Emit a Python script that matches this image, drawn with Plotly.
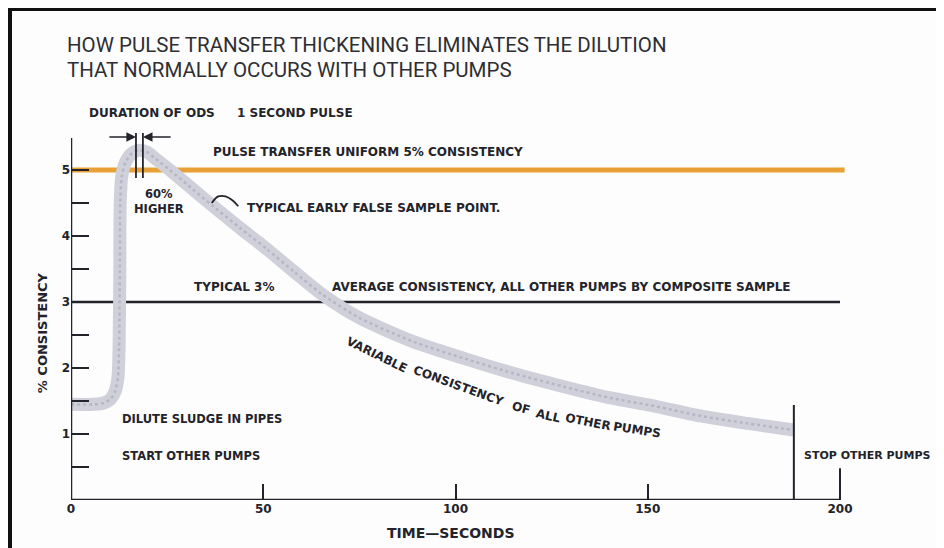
import plotly.graph_objects as go

# ---------------- data ----------------
time_s = [0, 6, 8.5, 10.3, 11.5, 12.2, 12.5, 12.7, 12.8, 13.2, 14.2, 15.8, 17.8, 19.8, 22, 25.7,
          30, 37, 44, 51, 58, 65, 75, 89, 102, 115, 128, 140, 152, 164, 176, 188]
consistency = [1.45, 1.45, 1.47, 1.53, 1.65, 1.85, 2.3, 3.5, 4.5, 4.9, 5.12, 5.25, 5.3, 5.27,
               5.17, 5.0, 4.79, 4.45, 4.12, 3.8, 3.46, 3.13, 2.76, 2.4, 2.15, 1.92, 1.72, 1.55,
               1.42, 1.27, 1.16, 1.06]

x_ticks = [0, 50, 100, 150, 200]
x_tick_labels = ["0", "50", "100", "150", "200"]
y_ticks = [1, 2, 3, 4, 5]
y_tick_labels = ["1", "2", "3", "4", "5"]
y_minor_ticks = [0.5, 1.5, 2.5, 3.5, 4.5]

pulse_level = 5          # pulse transfer uniform consistency
average_level = 3        # typical average consistency
stop_time = 188          # stop other pumps
ods_bounds = [16.9, 18.7]  # duration of ODS markers
x_axis_end = 200
y_axis_end = 5.485

INK = "#23232b"
FONT = "DejaVu Sans"

# figure geometry (page body has an 8px margin)
W, H = 936, 540
L, B = 63, 48
XS, YS = 3.845, 66.0               # pixels per data unit
XMAX = (W - L) / XS
YMAX = (H - B) / YS


def px_(xd):
    return xd / XMAX


def py_(yd):
    return yd / YMAX


fig = go.Figure()

# orange pulse transfer line
fig.add_trace(go.Scatter(x=[0, x_axis_end + 1.2], y=[pulse_level, pulse_level], mode="lines",
                         line=dict(color="#e9a034", width=5), hoverinfo="skip"))
# black average line
fig.add_trace(go.Scatter(x=[0, x_axis_end], y=[average_level, average_level], mode="lines",
                         line=dict(color=INK, width=2.5), hoverinfo="skip"))
# variable consistency band
fig.add_trace(go.Scatter(x=time_s, y=consistency, mode="lines",
                         line=dict(color="#cfd0da", width=13, shape="spline", smoothing=0.7),
                         hoverinfo="skip"))
fig.add_trace(go.Scatter(x=time_s, y=consistency, mode="lines",
                         line=dict(color="#b5b7c4", width=2.5, shape="spline", smoothing=0.7,
                                   dash="dot"),
                         hoverinfo="skip"))
# stop line and tall 200 tick
fig.add_trace(go.Scatter(x=[stop_time, stop_time], y=[0, 1.44], mode="lines",
                         line=dict(color=INK, width=2), hoverinfo="skip"))
fig.add_trace(go.Scatter(x=[x_axis_end, x_axis_end], y=[0, 0.48], mode="lines",
                         line=dict(color=INK, width=2), hoverinfo="skip"))
# axis lines
fig.add_trace(go.Scatter(x=[0, x_axis_end], y=[0, 0], mode="lines",
                         line=dict(color=INK, width=2.5), hoverinfo="skip"))
fig.add_trace(go.Scatter(x=[0, 0], y=[0, y_axis_end], mode="lines",
                         line=dict(color=INK, width=2.5), hoverinfo="skip"))
# ODS duration markers
for xv in ods_bounds:
    fig.add_trace(go.Scatter(x=[xv, xv], y=[4.88, 5.56], mode="lines",
                             line=dict(color=INK, width=1.8), hoverinfo="skip"))
# small arc pointing to false sample point
fig.add_trace(go.Scatter(x=[36.6, 38.3, 40.2, 42.2, 43.5], y=[4.5, 4.6, 4.6, 4.53, 4.45],
                         mode="lines", line=dict(color=INK, width=1.8, shape="spline"),
                         hoverinfo="skip"))

ann = []


def label(text, x, y, size=12, xanchor="left", angle=0, weight="bold", color=INK, family=FONT):
    ann.append(dict(text=text, x=px_(x), y=py_(y), xref="paper", yref="paper", showarrow=False,
                    xanchor=xanchor, yanchor="middle", textangle=angle,
                    font=dict(family=family, size=size, color=color, weight=weight)))


label("DURATION OF ODS", 4.2, 5.86)
label("1 SECOND PULSE", 42.7, 5.86)
label("PULSE TRANSFER UNIFORM 5% CONSISTENCY", 36.4, 5.27)
label("60%<br>HIGHER", 23.0, 4.52, size=11.5, xanchor="center")
label("TYPICAL EARLY FALSE SAMPLE POINT.", 45.3, 4.42)
label("TYPICAL 3%", 31.5, 3.23)
label("AVERAGE CONSISTENCY, ALL OTHER PUMPS BY COMPOSITE SAMPLE", 67.4, 3.23)
label("DILUTE SLUDGE IN PIPES", 12.7, 1.23, size=11.5)
label("START OTHER PUMPS", 12.7, 0.67, size=11.5)
label("STOP OTHER PUMPS", 190.2, 0.68, size=11)
label("TIME—SECONDS", 98.8, -0.5, size=14, xanchor="center")
label("% CONSISTENCY", -7.5, 2.53, size=13, xanchor="center", angle=-90)

# curved label, word by word
for w, x, y, a in [("VARIABLE", 79.6, 2.20, 26), ("CONSISTENCY", 100.9, 1.73, 20),
                   ("OF", 117.0, 1.40, 15), ("ALL", 124.2, 1.28, 13),
                   ("OTHER", 134.4, 1.18, 11), ("PUMPS", 147.2, 1.06, 9)]:
    label(w, x, y, size=12, xanchor="center", angle=a)

# title
label("HOW PULSE TRANSFER THICKENING ELIMINATES THE DILUTION", -1.56, 6.89, size=20.5,
      weight="normal", color="#2e2e33", family="Roboto")
label("THAT NORMALLY OCCURS WITH OTHER PUMPS", -1.56, 6.52, size=20.5,
      weight="normal", color="#2e2e33", family="Roboto")

# duration arrows
for x_to, x_from in [(ods_bounds[0], 9.6), (ods_bounds[1], 26.3)]:
    ann.append(dict(x=x_to, y=5.5, ax=x_from, ay=5.5, xref="x", yref="y", axref="x", ayref="y",
                    text="", showarrow=True, arrowhead=2, arrowsize=1.2, arrowwidth=1.6,
                    arrowcolor=INK))

frame_x = (2 - L) / XS        # left frame line, data units
frame_xr = (W - 4 - L) / XS   # right frame line, data units
frame_y = (H - B - 1.5) / YS  # top frame line, data units

fig.update_layout(
    width=W, height=H, margin=dict(l=L, r=0, t=0, b=B),
    paper_bgcolor="#fdfdfd", plot_bgcolor="#fdfdfd", showlegend=False,
    annotations=ann,
    shapes=[
        dict(type="line", xref="paper", yref="paper", x0=px_(frame_x), x1=px_(frame_x),
             y0=-B / (H - B), y1=1, line=dict(color="#111", width=4)),
        dict(type="line", xref="paper", yref="paper", x0=px_(frame_x), x1=1,
             y0=py_(frame_y), y1=py_(frame_y), line=dict(color="#111", width=3)),
        dict(type="line", xref="paper", yref="paper", x0=px_(frame_xr), x1=px_(frame_xr),
             y0=-B / (H - B), y1=py_(frame_y), line=dict(color="#b8b8b8", width=1.2)),
    ],
    xaxis=dict(range=[0, XMAX], showgrid=False, zeroline=False, showline=False,
               tickmode="array", tickvals=x_ticks, ticktext=x_tick_labels, ticks="inside",
               ticklen=16, tickwidth=2, tickcolor=INK,
               tickfont=dict(family=FONT, size=12, color=INK, weight="bold")),
    yaxis=dict(range=[0, YMAX], showgrid=False, zeroline=False, showline=False,
               tickmode="array", tickvals=y_ticks, ticktext=y_tick_labels, ticks="inside",
               ticklen=18, tickwidth=2, tickcolor=INK,
               minor=dict(tickvals=y_minor_ticks, ticks="inside", ticklen=18, tickwidth=2,
                          tickcolor=INK),
               tickfont=dict(family=FONT, size=12, color=INK, weight="bold")),
)

fig.write_html("out.html")
